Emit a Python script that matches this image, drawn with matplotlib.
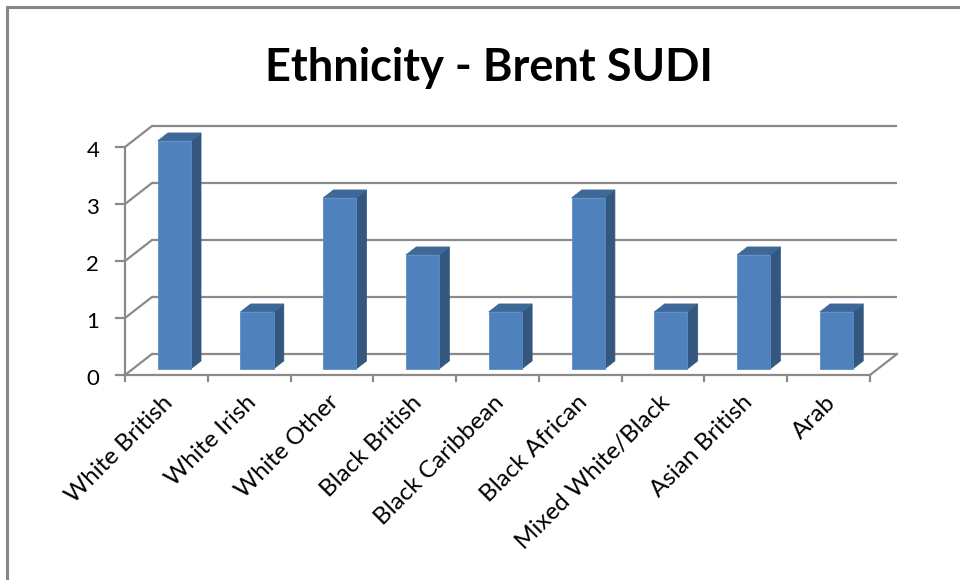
import matplotlib
matplotlib.use("Agg")
import matplotlib.pyplot as plt
from matplotlib.patches import Polygon, Rectangle
import numpy as np

categories = ["White British", "White Irish", "White Other", "Black British",
              "Black Caribbean", "Black African", "Mixed White/Black",
              "Asian British", "Arab"]
values = [4, 1, 3, 2, 1, 3, 1, 2, 1]
y_ticks = [0, 1, 2, 3, 4]
title = "Ethnicity - Brent SUDI"

plt.rcParams['font.family'] = ['Lato', 'DejaVu Sans']

W, H = 960, 580
fig = plt.figure(figsize=(W / 100, H / 100), dpi=100)
ax = fig.add_axes([0, 0, 1, 1])

# pixel geometry of the plot (front plane)
x0_px, x9_px = 125, 870
y0_px, y4_px = 375, 147
sx = (x9_px - x0_px) / len(categories)
sy = (y0_px - y4_px) / max(y_ticks)
ax.set_xlim(-x0_px / sx, (W - x0_px) / sx)
ax.set_ylim(-(H - y0_px) / sy, y0_px / sy)
ax.axis("off")

ddx = 27 / sx   # depth offset in data units
ddy = 21 / sy
n = len(categories)
grid_c = "#8a8a8a"
lw = 1.6

# back wall gridlines and side wall lines
for t in y_ticks:
    ax.plot([ddx, n + ddx], [t + ddy, t + ddy], color=grid_c, lw=lw, zorder=1,
            solid_capstyle="butt")
    ax.plot([0, ddx], [t, t + ddy], color=grid_c, lw=lw, zorder=1)
    ax.plot([-0.11, 0], [t, t], color=grid_c, lw=lw, zorder=1)
    ax.text(-0.31, t - 0.07, str(t), ha="right", va="center", fontsize=16, color="black")

# floor
ax.plot([0, n], [0, 0], color=grid_c, lw=lw, zorder=1)
ax.plot([n, n + ddx], [0, ddy], color=grid_c, lw=lw, zorder=1)
ax.plot([0, 0], [0, max(y_ticks)], color=grid_c, lw=lw, zorder=1)
for i in range(n + 1):
    ax.plot([i, i], [0, -0.11], color=grid_c, lw=lw, zorder=1)

# bars
front_c = "#4F81BD"
side_c = "#34577F"
top_c = "#3D6898"
w = 0.4
d0, d1 = 0.29, 0.67
for i, v in enumerate(values):
    c = i + 0.5
    xl = c - w / 2 + d0 * ddx
    xr = c + w / 2 + d0 * ddx
    yb = d0 * ddy
    yt = v + d0 * ddy
    ex = (d1 - d0) * ddx
    ey = (d1 - d0) * ddy
    ax.add_patch(Polygon([[xr, yb], [xr + ex, yb + ey], [xr + ex, yt + ey], [xr, yt]],
                         closed=True, facecolor=side_c, edgecolor=side_c, lw=0.5, zorder=3))
    ax.add_patch(Polygon([[xl, yt], [xr, yt], [xr + ex, yt + ey], [xl + ex, yt + ey]],
                         closed=True, facecolor=top_c, edgecolor=top_c, lw=0.5, zorder=3))
    ax.add_patch(Rectangle((xl, yb), xr - xl, yt - yb, facecolor=front_c,
                           edgecolor="#5B8CC6", lw=0.6, zorder=4))
    ax.text(c + 0.04, -0.42, categories[i], rotation=45, rotation_mode="anchor",
            ha="right", va="center", fontsize=17.5, color="black")

fig.text(489 / W, 1 - 68 / H, title, ha="center", va="center", fontsize=32.5,
         fontweight="bold", color="black")

# chart border
fig.patches.append(Rectangle((7 / W, -0.1), 2, 1 - 7 / H + 0.1, transform=fig.transFigure,
                             facecolor="none", edgecolor="#878787", lw=2.2))

fig.savefig("out.png", dpi=100, facecolor="white")
